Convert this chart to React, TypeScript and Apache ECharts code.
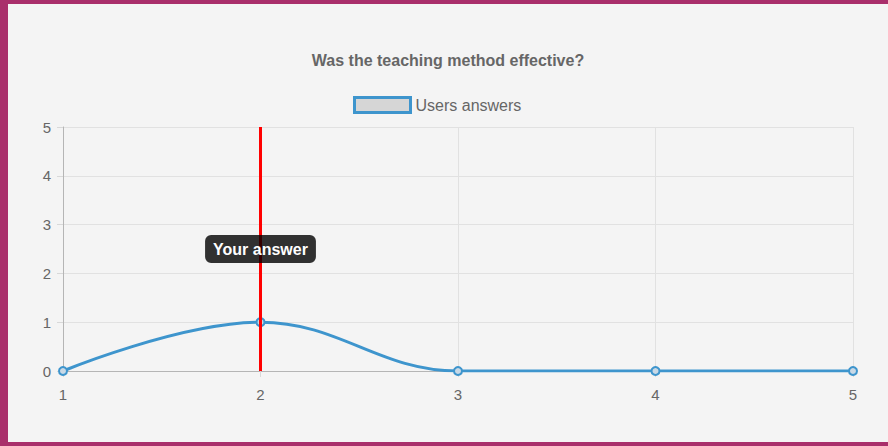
import React, { useEffect, useRef } from "react";
import * as echarts from "echarts";

const chartTitle = "Was the teaching method effective?";
const seriesName = "Users answers";
const xValues = [1, 2, 3, 4, 5];
const userAnswers = [0, 1, 0, 0, 0];
const yourAnswer = 2;
const yourAnswerLabel = "Your answer";
const labelLevel = 2.5;

const FONT = "'Liberation Sans', Arial, Helvetica, sans-serif";

export default function App() {
  const ref = useRef<HTMLDivElement>(null);

  useEffect(() => {
    if (!ref.current) return;
    const chart = echarts.init(ref.current, undefined, { renderer: "svg" });
    const data = xValues.map((x, i) => [x, userAnswers[i]]);
    chart.setOption({
      animation: false,
      textStyle: { fontFamily: FONT },
      title: {
        text: chartTitle,
        left: "center",
        top: 43,
        textStyle: { color: "#666", fontSize: 16, fontWeight: "bold", fontFamily: FONT },
      },
      legend: {
        left: 340,
        top: 87,
        itemWidth: 56,
        itemHeight: 15,
        itemGap: 10,
        icon: "rect",
        textStyle: { color: "#666", fontSize: 16, fontFamily: FONT },
        data: [
          {
            name: seriesName,
            itemStyle: { color: "#d6d6d6", borderColor: "#3e95cd", borderWidth: 3 },
          },
        ],
      },
      grid: { left: 55, right: 35, top: 123, bottom: 71, containLabel: false },
      xAxis: {
        type: "value",
        min: 1,
        max: 5,
        interval: 1,
        axisLine: { show: true, lineStyle: { color: "#b5b5b5", width: 1 } },
        axisTick: { show: true, length: 6, lineStyle: { color: "#d8d8d8" } },
        axisLabel: { color: "#666", fontSize: 15, margin: 16, fontFamily: FONT },
        splitLine: { show: true, lineStyle: { color: "#e1e1e1", width: 1 } },
      },
      yAxis: {
        type: "value",
        min: 0,
        max: 5,
        interval: 1,
        axisLine: { show: true, lineStyle: { color: "#b5b5b5", width: 1 } },
        axisTick: { show: true, length: 6, lineStyle: { color: "#d8d8d8" } },
        axisLabel: { color: "#666", fontSize: 15, margin: 12, fontFamily: FONT },
        splitLine: { show: true, lineStyle: { color: "#e1e1e1", width: 1 } },
      },
      series: [
        {
          name: seriesName,
          type: "line",
          data,
          smooth: 0.4,
          smoothMonotone: "x",
          symbol: "circle",
          symbolSize: 8,
          showSymbol: true,
          lineStyle: { color: "#3e95cd", width: 3 },
          itemStyle: { color: "#c9d9e6", borderColor: "#3e95cd", borderWidth: 2 },
          markLine: {
            silent: true,
            symbol: ["none", "none"],
            label: { show: false },
            lineStyle: { color: "#ff0000", width: 3, type: "solid" },
            data: [{ xAxis: yourAnswer }],
            z: 5,
          },
          markPoint: {
            silent: true,
            symbol: "circle",
            symbolSize: 0,
            data: [
              {
                coord: [yourAnswer, labelLevel],
                label: {
                  show: true,
                  position: "inside",
                  formatter: yourAnswerLabel,
                  color: "#fff",
                  fontSize: 16,
                  fontWeight: "bold",
                  fontFamily: FONT,
                  lineHeight: 16,
                  backgroundColor: "rgba(0,0,0,0.8)",
                  padding: [6, 8],
                  borderRadius: 6,
                },
              },
            ],
          },
        },
      ],
    });
    return () => chart.dispose();
  }, []);

  return (
    <div
      style={{
        position: "fixed",
        left: 0,
        top: 0,
        width: 888,
        height: 446,
        background: "#a92f6b",
        overflow: "hidden",
      }}
    >
      <div
        style={{
          position: "absolute",
          left: 8,
          top: 4,
          width: 880,
          height: 438,
          background: "#f4f4f4",
        }}
      >
        <div ref={ref} style={{ width: 880, height: 438 }} />
      </div>
    </div>
  );
}
